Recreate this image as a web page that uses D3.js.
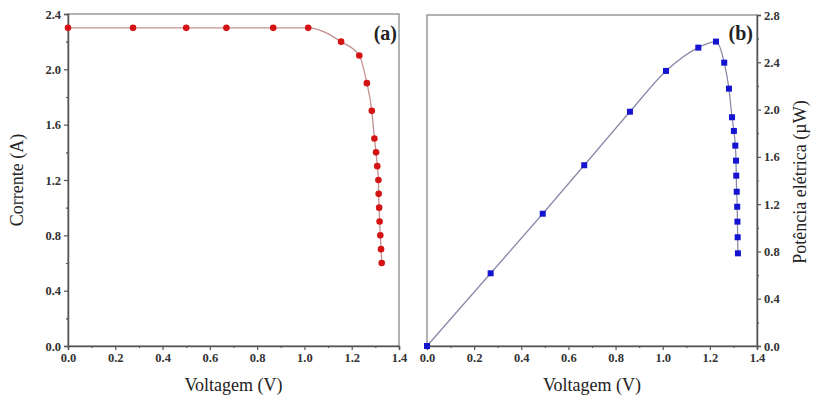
<!DOCTYPE html>
<html><head><meta charset="utf-8">
<script src="https://cdn.jsdelivr.net/npm/d3@7"></script>
<style>body{margin:0;background:#fff;} svg{display:block;} text{font-family:"Liberation Serif","Times New Roman",serif;}</style>
</head><body>
<svg id="chart" width="821" height="400"></svg>
<script>
// Panel (a): current vs voltage
const voltageA = [0.0, 0.275, 0.50, 0.67, 0.868, 1.016, 1.155, 1.232, 1.264, 1.285, 1.296, 1.303, 1.308, 1.313, 1.314, 1.316, 1.318, 1.321, 1.324, 1.327];
const currentA = [2.3, 2.3, 2.3, 2.3, 2.3, 2.3, 2.2, 2.1, 1.9, 1.7, 1.5, 1.4, 1.3, 1.2, 1.1, 1.0, 0.9, 0.8, 0.7, 0.6];
// Panel (b): power vs voltage
const voltageB = [0.0, 0.270, 0.491, 0.667, 0.861, 1.014, 1.151, 1.226, 1.261, 1.281, 1.294, 1.302, 1.308, 1.311, 1.312, 1.314, 1.316, 1.317, 1.318, 1.319];
const powerB = [0.0, 0.615, 1.119, 1.529, 1.982, 2.327, 2.524, 2.575, 2.397, 2.177, 1.935, 1.819, 1.695, 1.568, 1.441, 1.305, 1.178, 1.052, 0.920, 0.784];

const xTicks = [0.0, 0.2, 0.4, 0.6, 0.8, 1.0, 1.2, 1.4];
const yTicksA = [0.0, 0.4, 0.8, 1.2, 1.6, 2.0, 2.4];
const yTicksB = [0.0, 0.4, 0.8, 1.2, 1.6, 2.0, 2.4, 2.8];

const svg = d3.select("#chart");
const fmt = d3.format(".1f");
const serif = '"Liberation Serif", "Times New Roman", serif';

function panel(cfg) {
  const x = d3.scaleLinear().domain([0, 1.4]).range([cfg.x0, cfg.x1]);
  const y = d3.scaleLinear().domain([0, cfg.ymax]).range([cfg.y0, cfg.y1]);
  const g = svg.append("g");
  g.append("rect").attr("x", cfg.x0).attr("y", cfg.y1)
    .attr("width", cfg.x1 - cfg.x0).attr("height", cfg.y0 - cfg.y1)
    .attr("fill", "none").attr("stroke", "#8a8a8a").attr("stroke-width", 1.3);

  const xMinor = d3.range(0.1, 1.4, 0.2);
  g.append("g").attr("transform", `translate(0,${cfg.y0})`)
    .call(d3.axisBottom(x).tickValues(xTicks).tickFormat(fmt).tickSize(4).tickPadding(3));
  g.append("g").attr("transform", `translate(0,${cfg.y0})`)
    .call(d3.axisBottom(x).tickValues(xMinor).tickFormat("").tickSize(2))
    .call(s => s.select(".domain").remove());

  const yMinor = d3.range(0.2, cfg.ymax, 0.4);
  const axisFn = cfg.right ? d3.axisRight : d3.axisLeft;
  const yx = cfg.right ? cfg.x1 : cfg.x0;
  g.append("g").attr("transform", `translate(${yx},0)`)
    .call(axisFn(y).tickValues(cfg.yTicks).tickFormat(fmt).tickSize(4).tickPadding(3));
  g.append("g").attr("transform", `translate(${yx},0)`)
    .call(axisFn(y).tickValues(yMinor).tickFormat("").tickSize(2))
    .call(s => s.select(".domain").remove());

  g.selectAll(".domain").attr("stroke", "#555").attr("stroke-width", 1.5);
  g.selectAll(".tick line").attr("stroke", "#555").attr("stroke-width", 1.2);
  g.selectAll(".tick text").style("font-family", serif).style("font-weight", "bold")
    .style("font-size", "12.5px").attr("fill", "#333");

  const line = d3.line().x(d => x(d[0])).y(d => y(d[1])).curve(cfg.curve);
  const pts = cfg.xs.map((v, i) => [v, cfg.ys[i]]);
  g.append("path").datum(pts).attr("d", line).attr("fill", "none")
    .attr("stroke", cfg.lineColor).attr("stroke-width", 1.3);

  if (cfg.shape === "circle") {
    g.selectAll("circle.pt").data(pts).enter().append("circle")
      .attr("cx", d => x(d[0])).attr("cy", d => y(d[1])).attr("r", 3.3)
      .attr("fill", cfg.color);
  } else {
    g.selectAll("rect.pt").data(pts).enter().append("rect")
      .attr("x", d => x(d[0]) - 3).attr("y", d => y(d[1]) - 3)
      .attr("width", 6).attr("height", 6).attr("fill", cfg.color);
  }

  g.append("text").attr("x", (cfg.x0 + cfg.x1) / 2).attr("y", 391)
    .attr("text-anchor", "middle").style("font-family", serif)
    .style("font-size", "18px").attr("fill", "#222").text("Voltagem (V)");
  g.append("text").attr("x", cfg.labelX).attr("y", 40)
    .attr("text-anchor", "end").style("font-family", serif).style("font-weight", "bold")
    .style("font-size", "20px").attr("fill", "#222").text(cfg.label);
  g.append("text").attr("transform", `translate(${cfg.yTitleX},${cfg.yTitleY}) rotate(-90)`)
    .attr("text-anchor", "middle").style("font-family", serif)
    .style("font-size", "18px").attr("fill", "#222").text(cfg.yTitle);
}

panel({x0: 68, x1: 399, y0: 346, y1: 14, ymax: 2.4, yTicks: yTicksA, right: false,
  xs: voltageA, ys: currentA, color: "#d41414", lineColor: "#c49090", shape: "circle",
  curve: d3.curveMonotoneX,
  label: "(a)", labelX: 397, yTitle: "Corrente (A)", yTitleX: 23, yTitleY: 180});

panel({x0: 427, x1: 757, y0: 346, y1: 15, ymax: 2.8, yTicks: yTicksB, right: true,
  xs: voltageB, ys: powerB, color: "#1414d0", lineColor: "#8a8aa8", shape: "square",
  curve: d3.curveMonotoneX,
  label: "(b)", labelX: 753, yTitle: "Potência elétrica (µW)", yTitleX: 806, yTitleY: 182});
</script>
</body></html>
